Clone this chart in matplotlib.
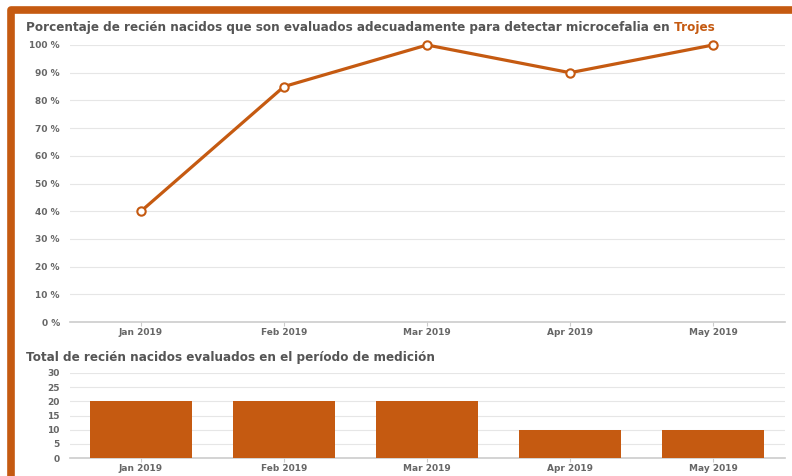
import matplotlib.pyplot as plt
from matplotlib.patches import Rectangle

months = ["Jan 2019", "Feb 2019", "Mar 2019", "Apr 2019", "May 2019"]
pct = [40, 85, 100, 90, 100]
totals = [20, 20, 20, 10, 10]

orange = "#C55A11"
grey_txt = "#666666"
W, H = 792, 476

plt.rcParams["font.family"] = "DejaVu Sans"

fig = plt.figure(figsize=(W / 100, H / 100), dpi=100)

# frame around the panel
fig.patches.append(Rectangle((10.5 / W, -0.1), 1.2, 1.1 - 10.5 / H,
                             transform=fig.transFigure, fill=False,
                             edgecolor=orange, linewidth=5.5,
                             joinstyle="round"))


def px_axes(x0, x1, ytop, ybot):
    return fig.add_axes([x0 / W, 1 - ybot / H, (x1 - x0) / W, (ybot - ytop) / H])


def style(ax):
    for s in ["top", "right", "left"]:
        ax.spines[s].set_visible(False)
    ax.spines["bottom"].set_color("#cccccc")
    ax.spines["bottom"].set_linewidth(1.2)
    ax.grid(axis="y", color="#e6e6e6", linewidth=0.8)
    ax.set_axisbelow(True)
    ax.tick_params(axis="y", length=0, colors=grey_txt, labelsize=6.5, pad=7)
    ax.tick_params(axis="x", length=3, color="#cccccc", colors=grey_txt,
                   labelsize=6.5, pad=1)
    for lab in ax.get_xticklabels() + ax.get_yticklabels():
        lab.set_fontweight("bold")
    ax.set_xlim(-0.5, len(months) - 0.5)


x = list(range(len(months)))

# top: percentage line
ax1 = px_axes(69.5, 784.5, 45, 322)
ax1.plot(x, pct, color=orange, linewidth=2.3, marker="o", markersize=6,
         markerfacecolor="white", markeredgecolor=orange, markeredgewidth=1.5,
         clip_on=False, zorder=3)
ax1.set_ylim(0, 100)
ax1.set_yticks(range(0, 101, 10))
ax1.set_yticklabels([f"{v} %" for v in range(0, 101, 10)])
ax1.set_xticks(x)
ax1.set_xticklabels(months)
style(ax1)

t = fig.text(26 / W, 1 - 31 / H,
             "Porcentaje de recién nacidos que son evaluados adecuadamente para detectar microcefalia en",
             fontsize=8.65, fontweight="bold", color="#555555", va="baseline")
ax1.annotate(" Trojes", xy=(1, 0), xycoords=t, fontsize=8.65, fontweight="bold",
             color=orange, va="bottom", ha="left", annotation_clip=False)

# bottom: totals bars
ax2 = px_axes(69.5, 784.5, 373, 458)
ax2.bar(x, totals, width=0.71, color=orange, zorder=3)
ax2.set_ylim(0, 30)
ax2.set_yticks(range(0, 31, 5))
ax2.set_xticks(x)
ax2.set_xticklabels(months)
style(ax2)

fig.text(26 / W, 1 - 361 / H,
         "Total de recién nacidos evaluados en el período de medición",
         fontsize=8.65, fontweight="bold", color="#555555", va="baseline")

fig.savefig("out.png", dpi=100)
